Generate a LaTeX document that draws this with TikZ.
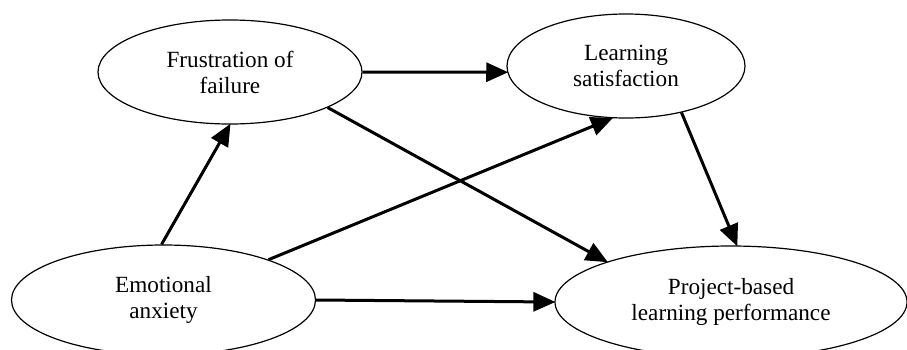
\documentclass[tikz,border=0pt]{standalone}
\usepackage{fontspec}
\setmainfont{Liberation Serif}
\usetikzlibrary{arrows.meta,shapes.geometric}
\tikzset{
  var/.style={ellipse,draw=black,line width=1.2pt,inner sep=0pt,align=center,
    font=\fontsize{23.2}{26}\selectfont},
  link/.style={line width=3pt,-{Triangle[length=22pt,width=19pt]},shorten >=-1pt}
}
\begin{document}
\begin{tikzpicture}[x=1pt,y=-1pt]
\path[use as bounding box,fill=white] (0,0) rectangle (907,349);
\node[var,minimum width=264pt,minimum height=104pt] (F) at (230,72) {Frustration of\\failure};
\node[var,minimum width=238pt,minimum height=104pt] (L) at (626,66) {Learning\\satisfaction};
\node[var,minimum width=304pt,minimum height=110pt] (E) at (163.5,300) {Emotional\\anxiety};
\node[var,minimum width=352pt,minimum height=112pt] (P) at (731,302) {Project-based\\learning performance};
\draw[link] (E.92) -- (F.south);
\draw[link] (F.east) -- (L.183);
\draw[link] (E.21) -- (L.255);
\draw[link] (F.-20) -- (P.162);
\draw[link] (L.-40) -- (P.84);
\draw[link] (E.east) -- (P.west);
\end{tikzpicture}
\end{document}
